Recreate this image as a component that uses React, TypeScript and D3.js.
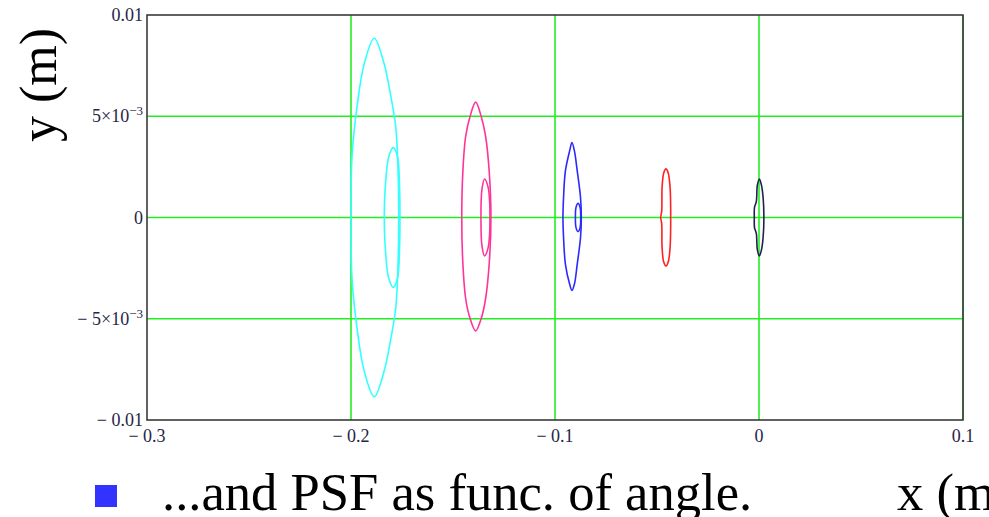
import React from 'react';
import * as d3 from 'd3';

// Axis ticks
const xTicks = [-0.3, -0.2, -0.1, 0, 0.1];
const xTickLabels = ['\u2212 0.3', '\u2212 0.2', '\u2212 0.1', '0', '0.1'];
const xGrid = [-0.2, -0.1, 0, 0.1];
const yTicks = [0.01, 0.005, 0, -0.005, -0.01];
const yTickBase = ['0.01', '5\u00d710', '0', '\u2212 5\u00d710', '\u2212 0.01'];
const yTickExp = ['', '\u22123', '', '\u22123', ''];
const yGrid = [0.005, 0, -0.005];

// Spot outlines (x, y in metres)
const cyanOuter: [number, number][] = [
  [-0.1886, 0.00885], [-0.1838, 0.0076], [-0.1805, 0.006], [-0.1781, 0.0045],
  [-0.177, 0.0025], [-0.1766, 0], [-0.177, -0.0025], [-0.1781, -0.0045],
  [-0.1805, -0.006], [-0.1838, -0.0076], [-0.1886, -0.00885], [-0.1935, -0.0076],
  [-0.197, -0.0055], [-0.1995, -0.003], [-0.2, 0], [-0.1995, 0.003],
  [-0.197, 0.0055], [-0.1935, 0.0076],
];
const cyanInner: [number, number][] = [
  [-0.1793, 0.00345], [-0.1772, 0.003], [-0.1762, 0.0015], [-0.176, 0],
  [-0.1762, -0.0015], [-0.1772, -0.003], [-0.1793, -0.00345], [-0.1815, -0.003],
  [-0.1832, -0.0015], [-0.1837, 0], [-0.1832, 0.0015], [-0.1815, 0.003],
];
const pinkOuter: [number, number][] = [
  [-0.1389, 0.0057], [-0.1362, 0.005], [-0.134, 0.004], [-0.1322, 0.0022],
  [-0.1314, 0], [-0.1322, -0.0022], [-0.134, -0.004], [-0.1362, -0.005],
  [-0.1389, -0.0056], [-0.1416, -0.005], [-0.1438, -0.004], [-0.1452, -0.0022],
  [-0.1457, 0], [-0.1452, 0.0022], [-0.1438, 0.004], [-0.1416, 0.005],
];
const pinkInner: [number, number][] = [
  [-0.1345, 0.0019], [-0.1328, 0.0015], [-0.132, 0.0007], [-0.1319, 0],
  [-0.132, -0.0007], [-0.1328, -0.0015], [-0.1345, -0.0019], [-0.1358, -0.0014],
  [-0.1363, 0], [-0.1358, 0.0014],
];
const blueOuter: [number, number][] = [
  [-0.0917, 0.0037], [-0.0905, 0.0033], [-0.0891, 0.0023], [-0.0875, 0.001],
  [-0.0871, 0], [-0.0875, -0.001], [-0.0891, -0.0023], [-0.0905, -0.0033],
  [-0.0917, -0.0036], [-0.0928, -0.0033], [-0.0949, -0.0023], [-0.0958, -0.001],
  [-0.0961, 0], [-0.0958, 0.001], [-0.0949, 0.0023], [-0.0928, 0.0033],
];
const blueInner: [number, number][] = [
  [-0.0887, 0.0007], [-0.0877, 0.0005], [-0.0874, 0], [-0.0877, -0.0005],
  [-0.0887, -0.0007], [-0.0897, -0.0005], [-0.09, 0], [-0.0897, 0.0005],
];
const redSpot: [number, number][] = [
  [-0.0456, 0.0024], [-0.0445, 0.0022], [-0.0436, 0.0015], [-0.0433, 0.0005],
  [-0.0433, 0], [-0.0433, -0.0005], [-0.0436, -0.0015], [-0.0445, -0.0022],
  [-0.0456, -0.0024], [-0.0467, -0.0022], [-0.0475, -0.0015], [-0.0477, -0.0003],
  [-0.0482, 0], [-0.0477, 0.0003], [-0.0475, 0.0015], [-0.0467, 0.0022],
];
const navySpot: [number, number][] = [
  [0.0002, 0.0019], [0.0012, 0.0016], [0.002, 0.001], [0.0024, 0],
  [0.002, -0.001], [0.0012, -0.0016], [0.0002, -0.0019], [-0.0008, -0.0016],
  [-0.0013, -0.0008], [-0.0022, -0.0005], [-0.0023, 0], [-0.0022, 0.0005],
  [-0.0013, 0.0008], [-0.0008, 0.0016],
];

const spots: { data: [number, number][]; color: string }[] = [
  { data: cyanOuter, color: '#33ffff' },
  { data: cyanInner, color: '#33ffff' },
  { data: pinkOuter, color: '#ff3399' },
  { data: pinkInner, color: '#ff3399' },
  { data: blueOuter, color: '#2a2aff' },
  { data: blueInner, color: '#2a2aff' },
  { data: redSpot, color: '#ff2020' },
  { data: navySpot, color: '#202050' },
];

const W = 989;
const H = 517;
const M = { left: 147, right: 963, top: 15, bottom: 420 };

export default function App() {
  const x = d3.scaleLinear().domain([-0.3, 0.1]).range([M.left, M.right]);
  const y = d3.scaleLinear().domain([-0.01, 0.01]).range([M.bottom, M.top]);
  const line = d3
    .line<[number, number]>()
    .x((d) => x(d[0]))
    .y((d) => y(d[1]))
    .curve(d3.curveCatmullRomClosed.alpha(0.5));

  const tickColor = '#262645';
  const tickFont = '"Liberation Serif", "Times New Roman", serif';

  return (
    <svg
      width={W}
      height={H}
      style={{ position: 'absolute', left: 0, top: 0, background: '#fff' }}
      fontFamily={tickFont}
    >
      {/* grid */}
      {xGrid.map((v) => (
        <line key={'gx' + v} x1={x(v)} x2={x(v)} y1={M.top} y2={M.bottom} stroke="#22ee22" strokeWidth={1.6} />
      ))}
      {yGrid.map((v) => (
        <line key={'gy' + v} x1={M.left} x2={M.right} y1={y(v)} y2={y(v)} stroke="#22ee22" strokeWidth={1.6} />
      ))}
      {/* spots */}
      {spots.map((s, i) => (
        <path key={i} d={line(s.data) || ''} fill="none" stroke={s.color} strokeWidth={1.6} />
      ))}
      {/* frame */}
      <rect
        x={M.left}
        y={M.top}
        width={M.right - M.left}
        height={M.bottom - M.top}
        fill="none"
        stroke="#3a3a3a"
        strokeWidth={1.6}
      />
      {/* y tick labels */}
      {yTicks.map((v, i) => (
        <text key={'yt' + v} x={M.left - 4} y={y(v) + 6} textAnchor="end" fontSize={18} fill={tickColor}>
          <tspan>{yTickBase[i]}</tspan>
          {yTickExp[i] ? (
            <tspan fontSize={13} dy={-7}>
              {yTickExp[i]}
            </tspan>
          ) : null}
        </text>
      ))}
      {/* x tick labels */}
      {xTicks.map((v, i) => (
        <text key={'xt' + v} x={x(v)} y={M.bottom + 22} textAnchor="middle" fontSize={18} fill={tickColor}>
          {xTickLabels[i]}
        </text>
      ))}
      {/* y axis title */}
      <text
        transform={`translate(56, 85) rotate(-90)`}
        textAnchor="middle"
        fontSize={52}
        fill="#000"
      >
        y (m)
      </text>
      {/* bullet and caption */}
      <rect x={95} y={485} width={22} height={22} fill="#3333ff" />
      <text x={162} y={510} fontSize={52.6} fill="#000">
        ...and PSF as func. of angle.
      </text>
      <text x={897} y={510} fontSize={52.6} fill="#000">
        x (m)
      </text>
    </svg>
  );
}
